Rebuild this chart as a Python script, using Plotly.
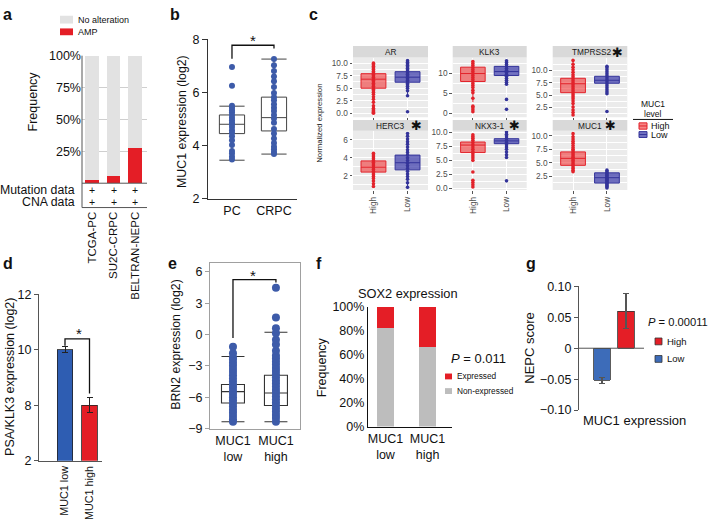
import plotly.graph_objects as go

W, H = 708, 529
def X(px): return px / W
def Y(py): return 1 - py / H

FONT = "Liberation Sans, Arial, sans-serif"
RED = "#E41E26"

# ---------------- data ----------------
# panel a
a_cohorts = ["TCGA-PC", "SU2C-CRPC", "BELTRAN-NEPC"]
a_amp = [2.5, 6.0, 27.5]
a_none = [97.5, 94.0, 72.5]
a_tickvals = [25, 50, 75, 100]
a_ticktext = ["25%", "50%", "75%", "100%"]
a_rows = ["Mutation data", "CNA data"]

# panel b
b_groups = ["PC", "CRPC"]
b_lo = [3.45, 3.68]
b_q1 = [4.45, 4.55]
b_med = [4.80, 5.05]
b_q3 = [5.15, 5.82]
b_hi = [5.48, 7.25]
b_pc = [6.95, 6.25, 5.50, 5.42, 5.33, 5.25, 5.15, 5.05, 4.95, 4.86, 4.80, 4.70,
        4.58, 4.48, 4.35, 4.20, 4.02, 3.80, 3.70, 3.58, 3.48]
b_crpc = [7.25, 7.02, 6.80, 6.60, 6.42, 6.20, 5.98, 5.82, 5.70, 5.55, 5.42, 5.30,
          5.15, 5.02, 4.86, 4.62, 4.45, 4.27, 4.10, 3.96, 3.86, 3.76, 3.68]

# panel c  (stats: lower whisker, q1, median, q3, upper whisker)
c_genes = ["AR", "KLK3", "TMPRSS2", "HERC3", "NKX3-1", "MUC1"]
c_sig = [False, False, True, True, True, True]
c_levels = ["High", "Low"]
c_high_stats = [[0.8, 5.0, 6.8, 7.9, 10.1], [2.8, 8.0, 10.0, 11.6, 13.0],
                [1.2, 5.5, 7.3, 8.4, 12.0], [0.8, 2.4, 2.95, 3.65, 4.5],
                [5.0, 6.4, 7.75, 8.3, 9.6], [3.3, 4.5, 5.8, 7.0, 10.4]]
c_low_stats = [[3.5, 6.2, 7.2, 8.3, 10.5], [7.3, 9.5, 10.5, 11.8, 13.2],
               [5.4, 7.4, 8.0, 8.8, 10.8], [0.7, 2.65, 3.45, 4.3, 6.7],
               [5.5, 8.0, 8.5, 8.9, 10.1], [0.3, 1.2, 2.2, 3.1, 3.6]]
c_high_pts = [
    [0.0, 0.15, 0.3, 0.5, 0.7, 1.0, 1.5, 2.2, 2.8, 3.3, 3.8, 4.2, 4.5, 4.8, 5.1, 5.4, 5.7,
     6.0, 6.3, 6.6, 6.9, 7.2, 7.5, 7.8, 8.1, 8.4, 8.8, 9.1, 9.4, 9.7, 10.0],
    [0.4, 0.9, 1.4, 1.8, 3.8, 5.2, 5.8, 6.5, 7.0, 7.5, 8.0, 8.5, 9.0, 9.5, 10.0, 10.5,
     11.0, 11.5, 12.0, 12.5, 13.0],
    [1.0, 1.5, 2.0, 2.6, 3.3, 3.8, 4.3, 4.7, 5.1, 5.5, 5.9, 6.3, 6.7, 7.1, 7.5, 7.9, 8.3,
     8.7, 9.1, 9.6, 10.1, 10.6, 11.2, 12.0],
    [0.8, 1.1, 1.4, 1.7, 1.9, 2.1, 2.3, 2.5, 2.7, 2.9, 3.1, 3.3, 3.5, 3.7, 3.9, 4.1, 4.3, 4.5],
    [0.2, 0.6, 1.0, 1.4, 2.9, 5.0, 5.4, 5.8, 6.2, 6.6, 7.0, 7.4, 7.8, 8.2, 8.6, 9.0, 9.3, 9.6],
    [3.3, 3.6, 3.9, 4.2, 4.5, 4.8, 5.1, 5.4, 5.7, 6.0, 6.3, 6.6, 6.9, 7.2, 7.5, 7.8, 8.2,
     8.6, 9.0, 9.4, 9.8, 10.4],
]
c_low_pts = [
    [0.3, 3.5, 4.5, 5.0, 5.4, 5.7, 6.0, 6.3, 6.6, 6.9, 7.2, 7.5, 7.8, 8.1, 8.4, 8.7, 9.0,
     9.3, 9.6, 9.9, 10.2, 10.5],
    [1.0, 3.5, 7.3, 7.8, 8.3, 8.8, 9.3, 9.8, 10.3, 10.8, 11.3, 11.8, 12.3, 12.8, 13.2],
    [1.7, 5.3, 5.7, 6.1, 6.5, 6.9, 7.3, 7.7, 8.1, 8.5, 8.9, 9.3, 9.7, 10.1, 10.5, 10.8],
    [0.7, 1.2, 1.6, 1.9, 2.2, 2.5, 2.8, 3.1, 3.4, 3.7, 4.0, 4.3, 4.6, 4.9, 5.2, 5.5, 5.8,
     6.1, 6.4, 6.7],
    [1.3, 5.5, 6.0, 6.5, 7.0, 7.4, 7.8, 8.2, 8.6, 9.0, 9.4, 9.7, 10.1],
    [0.3, 0.5, 0.7, 0.9, 1.1, 1.3, 1.5, 1.7, 1.9, 2.1, 2.3, 2.5, 2.7, 2.9, 3.1, 3.3, 3.6],
]
c_ticks = [[0, 2.5, 5, 7.5, 10], [0, 5, 10], [2.5, 5, 7.5, 10], [2, 4, 6],
           [0, 2.5, 5, 7.5, 10], [2.5, 5, 7.5, 10]]
c_ticktext = [["0.0", "2.5", "5.0", "7.5", "10.0"], ["0", "5", "10"],
              ["2.5", "5.0", "7.5", "10.0"], ["2", "4", "6"],
              ["0.0", "2.5", "5.0", "7.5", "10.0"], ["2.5", "5.0", "7.5", "10.0"]]

# panel d
d_groups = ["MUC1 low", "MUC1 high"]
d_vals = [10.0, 8.0]
d_err = [0.1, 0.26]
d_tickvals = [6, 8, 10, 12]
d_ticktext = ["2", "8", "10", "12"]

# panel e
e_groups = ["MUC1<br>low", "MUC1<br>high"]
e_lo = [-8.35, -8.35]
e_q1 = [-6.55, -6.8]
e_med = [-5.47, -5.6]
e_q3 = [-4.78, -3.9]
e_hi = [-2.1, 0.22]
e_low_pts = [-8.35, -8.1, -7.8, -7.5, -7.2, -6.9, -6.6, -6.3, -6.0, -5.7, -5.4, -5.1,
             -4.8, -4.5, -4.2, -3.9, -3.6, -3.3, -3.0, -2.7, -2.4, -2.2, -1.8, -1.18]
e_high_pts = [-8.35, -8.0, -7.7, -7.4, -7.1, -6.8, -6.5, -6.2, -5.9, -5.6, -5.3, -5.0,
              -4.7, -4.4, -4.1, -3.8, -3.5, -3.2, -2.9, -2.6, -2.3, -2.0, -1.55, -0.96,
              -0.5, 0.13, 0.6, 1.62, 4.48]

# panel f
f_groups = ["MUC1<br>low", "MUC1<br>high"]
f_nonexp = [82.0, 66.5]
f_exp = [18.0, 33.5]
f_tickvals = [0, 20, 40, 60, 80, 100]
f_ticktext = ["0%", "20%", "40%", "60%", "80%", "100%"]

# panel g
g_levels = ["Low", "High"]
g_vals = [-0.052, 0.060]
g_err = [0.005, 0.028]

# ---------------- figure ----------------
fig = go.Figure()
layout = dict(width=W, height=H, margin=dict(l=0, r=0, t=0, b=0),
              paper_bgcolor="white", plot_bgcolor="rgba(0,0,0,0)",
              font=dict(family=FONT, size=12, color="#111"),
              showlegend=False, barmode="stack")
ann = []
shp = []

def ids(i):
    return ("x" if i == 1 else f"x{i}"), ("y" if i == 1 else f"y{i}")

def set_axes(i, xd, yd, xkw, ykw):
    xi, yi = ids(i)
    xn = "xaxis" if i == 1 else f"xaxis{i}"
    yn = "yaxis" if i == 1 else f"yaxis{i}"
    base = dict(showgrid=False, zeroline=False, fixedrange=True, showline=False)
    xa = dict(base, domain=[X(xd[0]), X(xd[1])], anchor=yi)
    xa.update(xkw)
    ya = dict(base, domain=[Y(yd[1]), Y(yd[0])], anchor=xi)
    ya.update(ykw)
    layout[xn] = xa
    layout[yn] = ya

def text(px, py, s, size=12, xanchor="center", yanchor="middle", angle=0, color="#111", **kw):
    ann.append(dict(x=X(px), y=Y(py), xref="paper", yref="paper", text=s, showarrow=False,
                    xanchor=xanchor, yanchor=yanchor, textangle=angle,
                    font=dict(size=size, color=color, family=kw.pop("family", FONT)), **kw))

def rect(x0, y0, x1, y1, fill, line=None, lw=0, layer="above"):
    shp.append(dict(type="rect", xref="paper", yref="paper", x0=X(x0), x1=X(x1),
                    y0=Y(y0), y1=Y(y1), fillcolor=fill, layer=layer,
                    line=dict(color=line or fill, width=lw)))

def hline(x0, x1, y, color="#333", w=1):
    shp.append(dict(type="line", xref="paper", yref="paper", x0=X(x0), x1=X(x1),
                    y0=Y(y), y1=Y(y), line=dict(color=color, width=w)))

def vline(x, y0, y1, color="#333", w=1):
    shp.append(dict(type="line", xref="paper", yref="paper", x0=X(x), x1=X(x),
                    y0=Y(y0), y1=Y(y1), line=dict(color=color, width=w)))

# panel labels
for lab, px, py in [("a", 1, 8), ("b", 168, 8), ("c", 307, 8), ("d", 1, 263),
                    ("e", 166, 263), ("f", 314, 263), ("g", 524, 263)]:
    text(px, py, f"<b>{lab}</b>", size=16, xanchor="left")

# ---- panel a ----
xa_, ya_ = ids(1)
fig.add_bar(x=list(range(3)), y=a_amp, width=0.65, marker=dict(color=RED, line_width=0),
            xaxis=xa_, yaxis=ya_)
fig.add_bar(x=list(range(3)), y=a_none, width=0.65, marker=dict(color="#E2E2E2", line_width=0),
            xaxis=xa_, yaxis=ya_)
set_axes(1, (82, 147), (50, 181),
         dict(range=[-0.465, 2.558], tickvals=[0, 1, 2], ticktext=a_cohorts, tickangle=-90,
              anchor="free", position=Y(207), ticks="", tickfont=dict(size=11.5)),
         dict(range=[0, 100], tickvals=a_tickvals, ticktext=a_ticktext, showgrid=True,
              gridcolor="#CFCFCF", gridwidth=1, tickfont=dict(size=12.5), ticks=""))
vline(82, 50, 206, "#555")
hline(82, 147, 181, "#555")
hline(82, 147, 206, "#555")
text(77, 188, a_rows[0], size=12.3, xanchor="right")
text(77, 200, a_rows[1], size=12.3, xanchor="right")
for i in range(len(a_cohorts)):
    for py in (188, 200):
        ann.append(dict(x=i, y=Y(py), xref="x", yref="paper", text="+", showarrow=False,
                        font=dict(size=10.5, family=FONT, color="#111")))
text(33, 97, "Frequency", size=12.5, angle=-90)
rect(60, 9, 73, 17, "#E2E2E2")
rect(60, 22, 73, 29, RED)
text(76, 13, "No alteration", size=9, xanchor="left")
text(76, 26, "AMP", size=9, xanchor="left")

# ---- panel b ----
xb, yb = ids(2)
fig.add_scatter(x=[0] * len(b_pc), y=b_pc, mode="markers", xaxis=xb, yaxis=yb,
                marker=dict(size=6, color="#3D5BA9"))
fig.add_scatter(x=[1] * len(b_crpc), y=b_crpc, mode="markers", xaxis=xb, yaxis=yb,
                marker=dict(size=6, color="#3D5BA9"))
fig.add_box(x=[0, 1], q1=b_q1, median=b_med, q3=b_q3, lowerfence=b_lo, upperfence=b_hi,
            width=0.6, whiskerwidth=1, boxpoints=False, fillcolor="rgba(0,0,0,0)",
            line=dict(color="#444", width=1), xaxis=xb, yaxis=yb)
set_axes(2, (208, 297), (33, 197),
         dict(range=[-0.571, 1.548], tickvals=[0, 1], ticktext=b_groups, showline=True,
              linecolor="#333", linewidth=1, tickfont=dict(size=12.5)),
         dict(range=[2, 8], tickvals=[2, 4, 6, 8], ticks="outside", ticklen=5,
              tickcolor="#333", showline=True, linecolor="#333", linewidth=1,
              tickfont=dict(size=12.5)))
shp.append(dict(type="path", xref=xb, yref=yb, path="M 0,7.26 L 0,7.77 L 1,7.77 L 1,7.65",
                line=dict(color="#111", width=1.3)))
text(253, 34, "*", size=15)
text(182, 118, "MUC1 expression (log2)", size=12.3, angle=-90)

# ---- panel c ----
c_cols = [(353, 428), (452.7, 526.7), (552.7, 627.3)]
c_rows = [(52, 113.3), (127, 188)]
c_strips = [(40, 52), (116, 127)]
c_star_x = [None, None, 617, 416, 514, 610]
c_ranges = [[-0.8, 11.1], [-1.0, 14.0], [0.54, 12.56], [0.4, 7.03], [-0.35, 10.35], [-0.1, 10.96]]
for k, gene in enumerate(c_genes):
    r, cc = divmod(k, 3)
    i = 3 + k
    xi, yi = ids(i)
    x0, x1 = c_cols[cc]
    y0, y1 = c_rows[r]
    shp.append(dict(type="rect", xref=f"{xi} domain", yref=f"{yi} domain", x0=0, x1=1, y0=0, y1=1,
                    fillcolor="#EBEBEB", line_width=0, layer="below"))
    rect(x0, c_strips[r][0], x1, c_strips[r][1], "#D9D9D9")
    tx = (x0 + x1) / 2 + (2 if k == 2 else 0)
    text(tx, (c_strips[r][0] + c_strips[r][1]) / 2 + 0.5, gene, size=8.3, color="#1A1A1A")
    if c_sig[k]:
        text(c_star_x[k], (c_strips[r][0] + c_strips[r][1]) / 2 + 0.5, "✱", size=13,
             color="#111", family="DejaVu Sans")
    for j, (stats, pts, fc, lc) in enumerate([
            (c_high_stats[k], c_high_pts[k], "rgba(240,60,60,0.62)", "#E2232B"),
            (c_low_stats[k], c_low_pts[k], "rgba(60,60,170,0.72)", "#34349A")]):
        fig.add_box(x=[j + 1], lowerfence=[stats[0]], q1=[stats[1]], median=[stats[2]],
                    q3=[stats[3]], upperfence=[stats[4]], width=0.73, whiskerwidth=0,
                    boxpoints=False, fillcolor=fc, line=dict(color=lc, width=1),
                    xaxis=xi, yaxis=yi)
        fig.add_scatter(x=[j + 1] * len(pts), y=pts, mode="markers", xaxis=xi, yaxis=yi,
                        marker=dict(size=3.6, color=lc))
    t = c_ticks[k]
    step = t[1] - t[0]
    minor = [v + step / 2 for v in [t[0] - step] + t]
    set_axes(i, (x0, x1), (y0, y1),
             dict(range=[0.4, 2.6], tickvals=[1, 2], ticktext=c_levels, showgrid=True,
                  gridcolor="white", gridwidth=1.1, ticks="outside", ticklen=2.5,
                  tickcolor="#555", tickwidth=0.8, tickangle=-90,
                  showticklabels=(r == 1), tickfont=dict(size=8.3, color="#4D4D4D")),
             dict(range=c_ranges[k], tickvals=t, ticktext=c_ticktext[k], showgrid=True,
                  gridcolor="white", gridwidth=1.1, ticks="outside", ticklen=2.5,
                  tickcolor="#555", tickwidth=0.8, tickfont=dict(size=8.3, color="#4D4D4D"),
                  minor=dict(tickmode="array", tickvals=minor, showgrid=True,
                             gridcolor="white", gridwidth=0.5, ticks="")))
text(320, 120, "Normalized expression", size=7.8, angle=-90, color="#222")
text(653, 100, "MUC1", size=8.5)
text(653, 110, "level", size=8.5)
hline(633, 673, 115.5, "#111", 1)
rect(639, 119, 647, 125.5, "rgba(240,60,60,0.62)", "#E2232B", 1)
hline(639, 647, 122.2, "#E2232B", 1)
rect(639, 128, 647, 134, "rgba(60,60,170,0.72)", "#34349A", 1)
hline(639, 647, 131, "#34349A", 1)
text(649, 122, "High", size=9, xanchor="left")
text(649, 131.5, "Low", size=9, xanchor="left")

# ---- panel d ----
xd, yd = ids(9)
for j, (v, e, col) in enumerate(zip(d_vals, d_err, ["#2E5DB2", RED])):
    fig.add_bar(x=[j], y=[v], width=0.65, xaxis=xd, yaxis=yd,
                marker=dict(color=col, line=dict(color="#222", width=0.8)),
                error_y=dict(type="data", array=[e], color="#222", thickness=1, width=3))
set_axes(9, (39, 102), (295, 466),
         dict(range=[-1.061, 1.51], tickvals=[0, 1], ticktext=d_groups, tickangle=-90,
              showline=True, linecolor="#555", tickfont=dict(size=10.8)),
         dict(range=[6, 12], tickvals=d_tickvals, ticktext=d_ticktext, ticks="outside",
              ticklen=4, tickcolor="#555", showline=True, linecolor="#555",
              tickfont=dict(size=12.5)))
shp.append(dict(type="path", xref=xd, yref=yd, path="M 0,10.14 L 0,10.39 L 1,10.39 L 1,8.42",
                line=dict(color="#111", width=1.3)))
text(79, 335, "*", size=15)
text(10, 380, "PSA/KLK3 expression (log2)", size=12.5, angle=-90)

# ---- panel e ----
xe, ye = ids(10)
fig.add_scatter(x=[0] * len(e_low_pts), y=e_low_pts, mode="markers", xaxis=xe, yaxis=ye,
                marker=dict(size=8, color="#3D5BA9"))
fig.add_scatter(x=[1] * len(e_high_pts), y=e_high_pts, mode="markers", xaxis=xe, yaxis=ye,
                marker=dict(size=8, color="#3D5BA9"))
fig.add_box(x=[0, 1], q1=e_q1, median=e_med, q3=e_q3, lowerfence=e_lo, upperfence=e_hi,
            width=0.535, whiskerwidth=1, boxpoints=False, fillcolor="rgba(0,0,0,0)",
            line=dict(color="#333", width=1.1), xaxis=xe, yaxis=ye)
set_axes(10, (210, 300), (263, 433),
         dict(range=[-0.535, 1.56], tickvals=[0, 1], ticktext=e_groups, showline=True,
              mirror=True, linecolor="#A0A0A0", tickfont=dict(size=12.5)),
         dict(range=[-9, 6.84], tickvals=[-9, -6, -3, 0, 3, 6], ticks="outside", ticklen=4,
              tickcolor="#A0A0A0", showline=True, mirror=True, linecolor="#A0A0A0",
              tickfont=dict(size=12.5)))
shp.append(dict(type="path", xref=xe, yref=ye, path="M 0,-0.34 L 0,5.25 L 1,5.25 L 1,4.97",
                line=dict(color="#111", width=1.3)))
text(253, 276, "*", size=15)
text(176, 347, "BRN2 expression (log2)", size=12.3, angle=-90)

# ---- panel f ----
xf, yf = ids(11)
fig.add_bar(x=[0, 1], y=f_nonexp, width=0.4, marker=dict(color="#BDBDBD", line_width=0),
            xaxis=xf, yaxis=yf)
fig.add_bar(x=[0, 1], y=f_exp, width=0.4, marker=dict(color=RED, line_width=0),
            xaxis=xf, yaxis=yf)
set_axes(11, (368, 452), (308, 431),
         dict(range=[-0.417, 1.583], tickvals=[0, 1], ticktext=f_groups, showline=True,
              linecolor="#111", linewidth=1.2, tickfont=dict(size=12.5)),
         dict(range=[0, 100], tickvals=f_tickvals, ticktext=f_ticktext,
              showline=True, linecolor="#111", linewidth=1.2, tickfont=dict(size=12.5)))
text(408, 294, "SOX2 expression", size=12.8)
text(322, 370, "Frequency", size=12.5, angle=-90)
text(449, 361, "<i>P</i> = 0.011", size=13, xanchor="left")
rect(445, 376.5, 452, 382.5, RED)
rect(445, 391.5, 452, 397.5, "#BDBDBD")
text(455, 379.5, "Expressed", size=8.3, xanchor="left")
text(455, 394.5, "Non-expressed", size=8.3, xanchor="left")

# ---- panel g ----
xg, yg = ids(12)
for j, (v, e, col) in enumerate(zip(g_vals, g_err, ["#3D6CB9", RED])):
    fig.add_bar(x=[j], y=[v], width=0.67, xaxis=xg, yaxis=yg,
                marker=dict(color=col, line=dict(color="#333", width=0.8)),
                error_y=dict(type="data", array=[e], color="#555", thickness=1.2, width=3))
set_axes(12, (579, 644), (287, 414),
         dict(range=[-0.958, 1.75], showticklabels=False),
         dict(range=[-0.1, 0.1], tickvals=[-0.1, -0.05, 0, 0.05, 0.1],
              ticktext=["−0.10", "−0.05", "0", "0.05", "0.10"], ticks="outside", ticklen=4,
              tickcolor="#555", showline=True, linecolor="#555", tickfont=dict(size=12.5)))
shp.append(dict(type="line", xref="paper", yref=yg, x0=X(579), x1=X(644), y0=0, y1=0,
                line=dict(color="#555", width=1)))
text(530, 350, "NEPC score", size=13, angle=-90)
text(634, 425, "MUC1 expression", size=13)
text(646, 324, "<i>P</i> = 0.00011", size=11.2, xanchor="left")
rect(655, 340, 662, 347, RED, "#333", 0.8)
rect(655, 358, 662, 365, "#3D6CB9", "#333", 0.8)
text(665, 343.5, "High", size=9.5, xanchor="left")
text(665, 361.5, "Low", size=9.5, xanchor="left")

layout["annotations"] = ann
layout["shapes"] = shp
fig.update_layout(**layout)
fig.write_html("out.html", config={"displayModeBar": False},
               post_script="document.body.style.margin='0';document.body.style.overflow='hidden';")
